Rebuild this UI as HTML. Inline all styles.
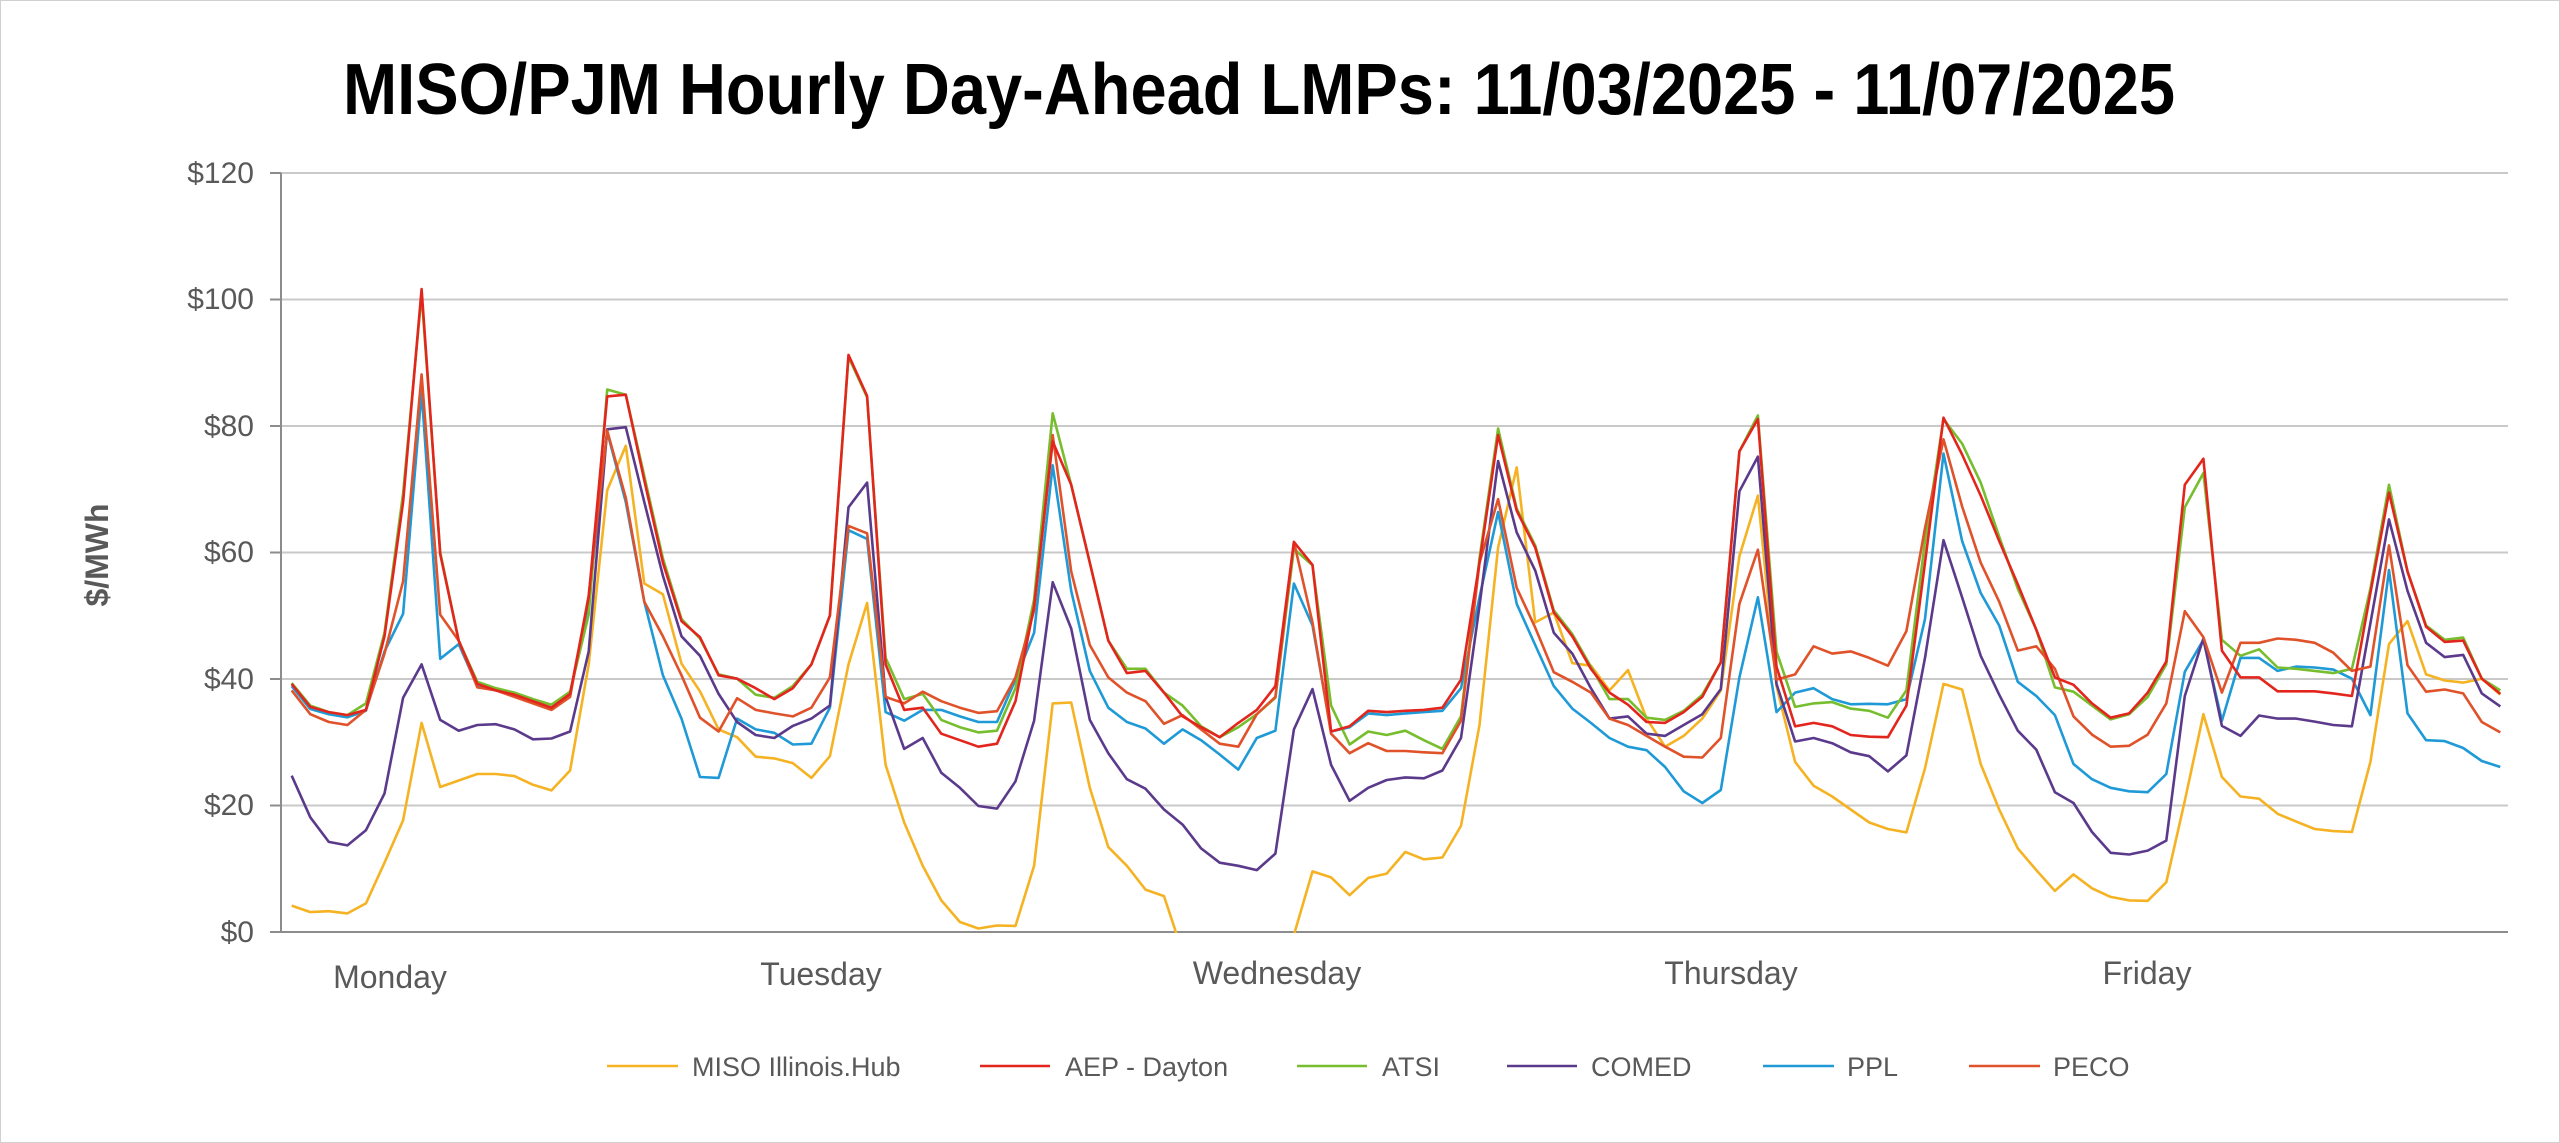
<!DOCTYPE html>
<html><head><meta charset="utf-8">
<style>
html,body{margin:0;padding:0;background:#fff;}
svg{display:block;}
text{font-family:"Liberation Sans",sans-serif;}
</style></head>
<body>
<svg id="c" width="2560" height="1143" viewBox="0 0 2560 1143" xmlns="http://www.w3.org/2000/svg">
<rect x="0.5" y="0.5" width="2559" height="1142" fill="#fff" stroke="#d0d0d0" stroke-width="1"/>
<text x="343" y="114" font-size="72" font-weight="bold" fill="#000" textLength="1832" lengthAdjust="spacingAndGlyphs">MISO/PJM Hourly Day-Ahead LMPs: 11/03/2025 - 11/07/2025</text>
<g stroke="#c9c9c9" stroke-width="2">
<line x1="281" y1="173" x2="2508" y2="173"/>
<line x1="281" y1="299.5" x2="2508" y2="299.5"/>
<line x1="281" y1="426" x2="2508" y2="426"/>
<line x1="281" y1="552.5" x2="2508" y2="552.5"/>
<line x1="281" y1="679" x2="2508" y2="679"/>
<line x1="281" y1="805.5" x2="2508" y2="805.5"/>
</g>
<g stroke="#8c8c8c" stroke-width="2">
<line x1="281" y1="173" x2="281" y2="932"/>
<line x1="270" y1="932" x2="2508" y2="932"/>
<line x1="270" y1="173" x2="281" y2="173"/>
<line x1="270" y1="299.5" x2="281" y2="299.5"/>
<line x1="270" y1="426" x2="281" y2="426"/>
<line x1="270" y1="552.5" x2="281" y2="552.5"/>
<line x1="270" y1="679" x2="281" y2="679"/>
<line x1="270" y1="805.5" x2="281" y2="805.5"/>
</g>
<g font-size="30" fill="#595959" text-anchor="end">
<text x="254" y="183">$120</text>
<text x="254" y="309">$100</text>
<text x="254" y="436">$80</text>
<text x="254" y="562">$60</text>
<text x="254" y="689">$40</text>
<text x="254" y="815">$20</text>
<text x="254" y="942">$0</text>
</g>
<text x="0" y="0" font-size="32" font-weight="bold" fill="#595959" text-anchor="middle" transform="translate(108,555) rotate(-90)">$/MWh</text>
<g font-size="32" fill="#595959" text-anchor="middle">
<text x="390" y="988">Monday</text>
<text x="821" y="985">Tuesday</text>
<text x="1277" y="984">Wednesday</text>
<text x="1731" y="984">Thursday</text>
<text x="2147" y="984">Friday</text>
</g>
<defs><clipPath id="pc"><rect x="281" y="160" width="2230" height="773"/></clipPath></defs>
<g id="lines" clip-path="url(#pc)" fill="none" stroke-width="2.6" stroke-linejoin="round"></g>
<g stroke-width="2.6">
<line x1="607" y1="1066" x2="678" y2="1066" stroke="#f5b324"/>
<line x1="980" y1="1066" x2="1050" y2="1066" stroke="#e3261d"/>
<line x1="1297" y1="1066" x2="1367" y2="1066" stroke="#77be2f"/>
<line x1="1507" y1="1066" x2="1577" y2="1066" stroke="#5b3a8c"/>
<line x1="1763" y1="1066" x2="1834" y2="1066" stroke="#1f9ad6"/>
<line x1="1969" y1="1066" x2="2040" y2="1066" stroke="#e0522a"/>
</g>
<g font-size="27" fill="#595959">
<text x="692" y="1076">MISO Illinois.Hub</text>
<text x="1065" y="1076">AEP - Dayton</text>
<text x="1382" y="1076">ATSI</text>
<text x="1591" y="1076">COMED</text>
<text x="1847" y="1076">PPL</text>
<text x="2053" y="1076">PECO</text>
</g>
</svg>
<script>
var S=[
["#f5b324",[1492,1507,1505,1510,1487,1393,1295,1070,1218,1203,1188,1188,1193,1213,1226,1180,935,533,430,748,773,933,997,1085,
1103,1148,1152,1163,1197,1147,935,793,1167,1300,1400,1480,1530,1545,1538,1539,1400,1025,1023,1220,1357,1400,1455,1470,
1600,1650,1680,1680,1650,1600,1560,1413,1427,1468,1428,1418,1368,1385,1381,1308,1075,665,480,838,815,932,938,995,
948,1060,1125,1100,1060,995,685,545,985,1160,1215,1240,1270,1300,1315,1323,1175,980,993,1165,1270,1360,1410,1458,
1420,1452,1472,1480,1481,1438,1250,1050,1195,1240,1245,1280,1298,1315,1320,1322,1160,888,835,958,972,977,968,1005]],
["#1f9ad6",[985,1038,1050,1057,1042,905,818,305,922,888,985,995,1005,1020,1035,1003,790,398,560,790,960,1060,1195,1197,
1060,1085,1093,1120,1118,1035,625,645,1045,1065,1040,1040,1055,1068,1068,970,862,475,765,950,1035,1068,1083,1118,
1085,1110,1143,1178,1105,1088,748,845,1090,1080,1048,1052,1048,1045,1042,990,780,583,795,890,985,1037,1070,1105,
1125,1133,1172,1228,1255,1225,965,780,1045,1000,990,1015,1027,1026,1027,1015,830,448,650,770,845,975,1008,1052,
1165,1200,1220,1228,1230,1188,952,878,1065,920,920,950,940,942,947,968,1052,717,1048,1110,1112,1128,1158,1172]],
["#5b3a8c",[1192,1288,1345,1353,1318,1233,1012,935,1063,1088,1075,1073,1085,1108,1106,1090,905,392,387,560,730,870,915,1003,
1068,1098,1105,1077,1060,1030,572,515,1010,1130,1105,1185,1220,1262,1268,1205,1065,745,852,1063,1140,1200,1222,1270,
1305,1360,1393,1400,1410,1372,1085,992,1167,1250,1220,1202,1196,1198,1180,1105,800,465,630,718,862,910,990,1060,
1055,1095,1100,1075,1050,992,535,455,980,1113,1105,1117,1138,1147,1182,1145,920,648,780,915,1005,1088,1132,1230,
1255,1322,1370,1374,1365,1342,1008,875,1077,1100,1053,1060,1060,1067,1075,1078,840,600,765,885,918,913,1002,1032]],
["#77be2f",[978,1030,1045,1052,1025,862,540,80,676,880,975,990,1000,1015,1028,998,820,300,312,500,690,830,875,958,
968,1005,1012,985,935,822,225,318,920,1015,1003,1063,1080,1092,1088,990,785,355,520,700,880,945,945,1000,
1030,1078,1103,1080,1050,1012,668,706,1030,1120,1090,1098,1088,1110,1130,1055,690,390,575,660,810,865,940,1015,
1015,1058,1063,1042,1005,930,443,360,905,1033,1025,1022,1037,1042,1058,995,650,368,425,515,640,760,855,988,
998,1030,1062,1050,1010,935,572,493,878,915,900,942,945,950,955,945,760,520,720,845,878,873,968,995]],
["#e0522a",[995,1050,1068,1075,1040,910,743,265,820,880,988,995,1010,1025,1040,1010,775,395,550,790,870,960,1058,1090,
1013,1040,1048,1055,1035,965,615,632,1010,1025,998,1020,1035,1047,1043,965,810,405,720,890,965,1000,1020,1072,
1052,1085,1118,1125,1050,1010,652,838,1095,1140,1117,1135,1135,1138,1140,1065,700,553,758,850,953,975,1000,1060,
1075,1100,1125,1148,1150,1105,795,670,970,958,893,910,905,920,938,858,620,415,570,700,790,903,893,945,
1055,1097,1125,1123,1097,1025,812,872,1000,885,885,875,878,885,908,950,940,660,937,998,993,1002,1068,1092]],
["#e3261d",[980,1033,1045,1052,1040,870,560,68,680,880,980,995,1005,1020,1035,1003,780,316,312,510,700,835,872,960,
968,990,1015,990,935,822,220,315,935,1040,1035,1095,1110,1125,1118,1020,800,420,520,700,880,955,950,1000,
1055,1080,1103,1070,1040,985,652,705,1090,1078,1042,1045,1042,1040,1035,970,700,405,580,665,815,870,945,1000,
1028,1068,1070,1045,1010,930,443,368,940,1078,1070,1078,1098,1102,1103,1030,700,365,450,545,650,750,855,965,
982,1025,1058,1048,1000,928,520,460,903,965,965,997,997,997,1002,1008,770,538,720,848,883,880,968,1003]]
];
var g=document.getElementById('lines'),ns='http://www.w3.org/2000/svg';
S.forEach(function(s){
  var pts=s[1].map(function(zy,i){
    var x=291.7+i*18.56;
    var y=932-(1553-zy)*0.43295;
    return x.toFixed(1)+','+y.toFixed(1);
  }).join(' ');
  var p=document.createElementNS(ns,'polyline');
  p.setAttribute('points',pts);
  p.setAttribute('stroke',s[0]);
  g.appendChild(p);
});
</script>
</body></html>
